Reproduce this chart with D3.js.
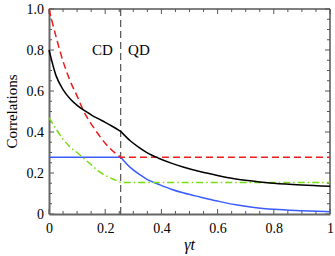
<!DOCTYPE html>
<html>
<head>
<meta charset="utf-8">
<script src="https://cdn.jsdelivr.net/npm/d3@7"></script>
<style>
  body { margin: 0; background: #fff; }
</style>
</head>
<body>
<script>
// values
var tc = 0.255;

// before the transition (t <= tc)
var tBefore = [0, 0.025, 0.05, 0.075, 0.1, 0.125, 0.15, 0.175, 0.2, 0.225, 0.255];
var redBefore = [1.0, 0.865, 0.745, 0.65, 0.575, 0.497, 0.44, 0.39, 0.345, 0.31, 0.277];
var blackBefore = [0.80, 0.675, 0.607, 0.562, 0.53, 0.505, 0.484, 0.465, 0.447, 0.428, 0.403];
var greenBefore = [0.47, 0.415, 0.365, 0.327, 0.30, 0.27, 0.24, 0.21, 0.188, 0.172, 0.154];
var blueBefore = [0.277, 0.277, 0.277, 0.277, 0.277, 0.277, 0.277, 0.277, 0.277, 0.277, 0.277];

// after the transition (t >= tc)
var tAfter = [0.255, 0.29, 0.32, 0.35, 0.39, 0.435, 0.48, 0.54, 0.6, 0.66, 0.73, 0.8, 0.9, 1.0];
var blackAfter = [0.403, 0.356, 0.325, 0.298, 0.272, 0.248, 0.228, 0.206, 0.188, 0.172, 0.16, 0.15, 0.141, 0.135];
var blueAfter = [0.277, 0.226, 0.195, 0.168, 0.145, 0.121, 0.102, 0.082, 0.063, 0.046, 0.032, 0.023, 0.016, 0.011];
var redAfter = [0.277, 0.277];
var greenAfter = [0.154, 0.154];
var tFlat = [0.255, 1.0];

var xTicks = [0, 0.2, 0.4, 0.6, 0.8, 1];
var xTickLabels = ["0", "0.2", "0.4", "0.6", "0.8", "1"];
var yTicks = [0, 0.2, 0.4, 0.6, 0.8, 1];
var yTickLabels = ["0", "0.2", "0.4", "0.6", "0.8", "1.0"];
var regionLabels = [{text: "CD", t: 0.19}, {text: "QD", t: 0.32}];

var w = 335;
var h = 256;
var padL = 49, padR = 330, padT = 9, padB = 214;
var serif = "'Times New Roman', 'Liberation Serif', 'DejaVu Serif', serif";

var x = d3.scaleLinear().domain([0, 1]).range([padL, padR]);
var y = d3.scaleLinear().domain([0, 1]).range([padB, padT]);

var svg = d3.select("body").append("svg")
  .attr("width", w)
  .attr("height", h);

function pts(ts, vs) {
  return ts.map(function(t, i) { return [t, vs[i]]; });
}

var line = d3.line()
  .x(function(d) { return x(d[0]); })
  .y(function(d) { return y(d[1]); })
  .curve(d3.curveMonotoneX);

var minor = d3.range(0, 1.0001, 0.05);

// frame: top and right thin black
svg.append("line").attr("x1", padL).attr("x2", padR).attr("y1", padT).attr("y2", padT)
  .attr("stroke", "#000").attr("stroke-width", 1);
svg.append("line").attr("x1", padR).attr("x2", padR).attr("y1", padT).attr("y2", padB)
  .attr("stroke", "#000").attr("stroke-width", 1);

// ticks on all sides, pointing inward
minor.forEach(function(v) {
  var major = Math.abs(v * 5 - Math.round(v * 5)) < 1e-6;
  var len = major ? 5 : 3;
  svg.append("line").attr("x1", x(v)).attr("x2", x(v)).attr("y1", padB).attr("y2", padB - len)
    .attr("stroke", "#555").attr("stroke-width", 1);
  svg.append("line").attr("x1", x(v)).attr("x2", x(v)).attr("y1", padT).attr("y2", padT + len)
    .attr("stroke", "#555").attr("stroke-width", 1);
  svg.append("line").attr("y1", y(v)).attr("y2", y(v)).attr("x1", padL).attr("x2", padL + len)
    .attr("stroke", "#555").attr("stroke-width", 1);
  svg.append("line").attr("y1", y(v)).attr("y2", y(v)).attr("x1", padR).attr("x2", padR - len)
    .attr("stroke", "#555").attr("stroke-width", 1);
});

// left and bottom axes with labels
var xAxis = d3.axisBottom(x).tickValues(xTicks)
  .tickFormat(function(d, i) { return xTickLabels[i]; }).tickSize(0).tickPadding(9);
var yAxis = d3.axisLeft(y).tickValues(yTicks)
  .tickFormat(function(d, i) { return yTickLabels[i]; }).tickSize(0).tickPadding(5);

var gx = svg.append("g").attr("transform", "translate(0," + padB + ")").call(xAxis);
var gy = svg.append("g").attr("transform", "translate(" + padL + ",0)").call(yAxis);
[gx, gy].forEach(function(g) {
  g.attr("font-family", serif).attr("font-size", 14);
  g.select(".domain").attr("stroke", "#666").attr("stroke-width", 2);
  g.selectAll("text")
    .style("font-family", serif)
    .style("font-size", "14px")
    .attr("fill", "#000");
});

// transition line
svg.append("line")
  .attr("x1", x(tc)).attr("x2", x(tc)).attr("y1", padT).attr("y2", padB)
  .attr("stroke", "#555").attr("stroke-width", 1.2)
  .attr("stroke-dasharray", "7,4");

// curves
var series = [
  {b: pts(tBefore, blueBefore), a: pts(tAfter, blueAfter), color: "#3a5cff", dash: null},
  {b: pts(tBefore, greenBefore), a: pts(tFlat, greenAfter), color: "#77dd11", dash: "7,3,1.5,3"},
  {b: pts(tBefore, redBefore), a: pts(tFlat, redAfter), color: "#ee1c1c", dash: "7,4"},
  {b: pts(tBefore, blackBefore), a: pts(tAfter, blackAfter), color: "#000", dash: null}
];

series.forEach(function(s) {
  svg.append("path")
    .attr("d", line(s.b) + line(s.a).replace(/^M/, "L"))
    .attr("fill", "none")
    .attr("stroke", s.color)
    .attr("stroke-width", 1.5)
    .attr("stroke-dasharray", s.dash);
});

// region labels
svg.selectAll(".region")
  .data(regionLabels)
  .enter()
  .append("text")
  .attr("x", function(d) { return x(d.t); })
  .attr("y", 55)
  .attr("text-anchor", "middle")
  .style("font-family", serif)
  .style("font-size", "15px")
  .text(function(d) { return d.text; });

// axis titles
svg.append("text")
  .attr("transform", "translate(17," + ((padT + padB) / 2) + ") rotate(-90)")
  .attr("text-anchor", "middle")
  .style("font-family", serif)
  .style("font-size", "15px")
  .text("Correlations");

svg.append("text")
  .attr("x", (padL + padR) / 2)
  .attr("y", 250)
  .attr("text-anchor", "middle")
  .style("font-family", serif)
  .style("font-size", "16px")
  .style("font-style", "italic")
  .text("γt");
</script>
</body>
</html>
